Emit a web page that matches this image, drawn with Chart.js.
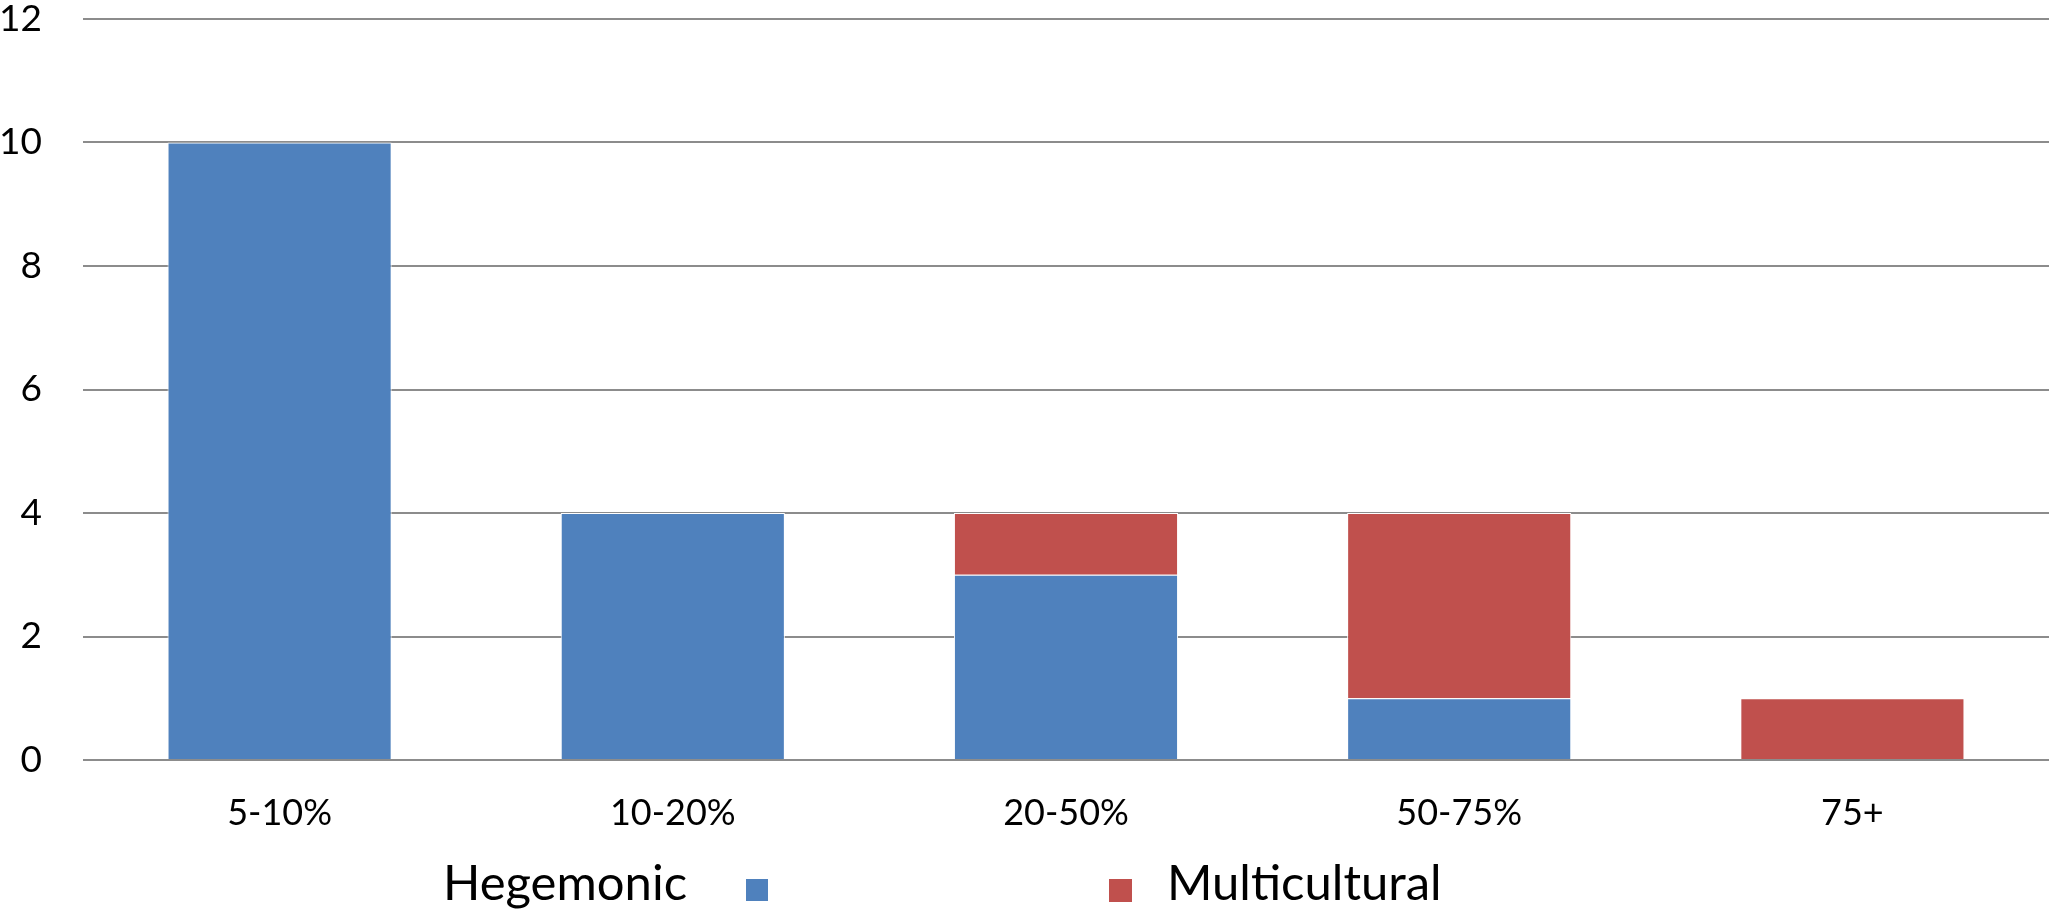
<!DOCTYPE html>
<html>
<head>
<meta charset="utf-8">
<script src="https://cdn.jsdelivr.net/npm/chart.js@4.4.1/dist/chart.umd.min.js"></script>
<style>
  html, body { margin: 0; padding: 0; background: #fff; }
  #wrap { width: 2049px; height: 911px; }
</style>
</head>
<body>
<div id="wrap"><canvas id="chart" width="2049" height="911"></canvas></div>
<script>
// Chart data
const categories = ['5-10%', '10-20%', '20-50%', '50-75%', '75+'];
const hegemonic = [10, 4, 3, 1, 0];
const multicultural = [0, 0, 1, 3, 1];
const yTicks = [0, 2, 4, 6, 8, 10, 12];

const blue = '#4F81BD';
const red = '#C0504D';
const gridGray = '#8C8C8C';

// Legend drawn under the axis: text/box order follows the original picture
const bottomLegend = {
  id: 'bottomLegend',
  afterDraw(chart) {
    const ctx = chart.ctx;
    const ds = chart.data.datasets;
    ctx.save();
    ctx.font = '49px Lato';
    ctx.fillStyle = '#000';
    ctx.textBaseline = 'alphabetic';
    ctx.textAlign = 'left';
    // first entry: label then box
    ctx.fillText(ds[0].label, 443, 900);
    ctx.fillStyle = ds[0].backgroundColor;
    ctx.fillRect(746, 879, 22, 22);
    // second entry: box then label
    ctx.fillStyle = ds[1].backgroundColor;
    ctx.fillRect(1109, 879, 23, 23);
    ctx.fillStyle = '#000';
    ctx.fillText(ds[1].label, 1167, 900);
    ctx.restore();
  }
};

const barStyle = {
  borderColor: '#fff',
  borderWidth: 1,
  borderSkipped: 'start',
  barPercentage: 0.57,
  categoryPercentage: 1
};

const ctx = document.getElementById('chart').getContext('2d');
new Chart(ctx, {
  type: 'bar',
  data: {
    labels: categories,
    datasets: [
      Object.assign({ label: 'Hegemonic', data: hegemonic, backgroundColor: blue }, barStyle),
      Object.assign({ label: 'Multicultural', data: multicultural, backgroundColor: red }, barStyle)
    ]
  },
  options: {
    responsive: false,
    animation: false,
    layout: { padding: 0 },
    plugins: {
      legend: { display: false },
      tooltip: { enabled: false }
    },
    scales: {
      x: {
        stacked: true,
        grid: { display: false },
        border: { display: false },
        ticks: {
          color: '#000',
          padding: 24,
          font: { family: 'Lato', size: 36 }
        },
        afterFit(scale) {
          // room below for tick labels + legend
          scale.height = 151;
          scale.paddingLeft = 0;
          scale.paddingRight = 0;
        }
      },
      y: {
        stacked: true,
        min: 0,
        max: 12,
        afterBuildTicks(scale) {
          scale.ticks = yTicks.map(v => ({ value: v }));
        },
        grid: { color: gridGray, lineWidth: 2, drawTicks: false, tickLength: 0 },
        border: { display: false },
        ticks: {
          color: '#000',
          padding: 41,
          crossAlign: 'near',
          font: { family: 'Lato', size: 37, lineHeight: 1 }
        },
        afterFit(scale) {
          scale.width = 83;
          scale.paddingTop = 19;
          scale.paddingBottom = 0;
        }
      }
    }
  },
  plugins: [bottomLegend]
});
</script>
</body>
</html>
